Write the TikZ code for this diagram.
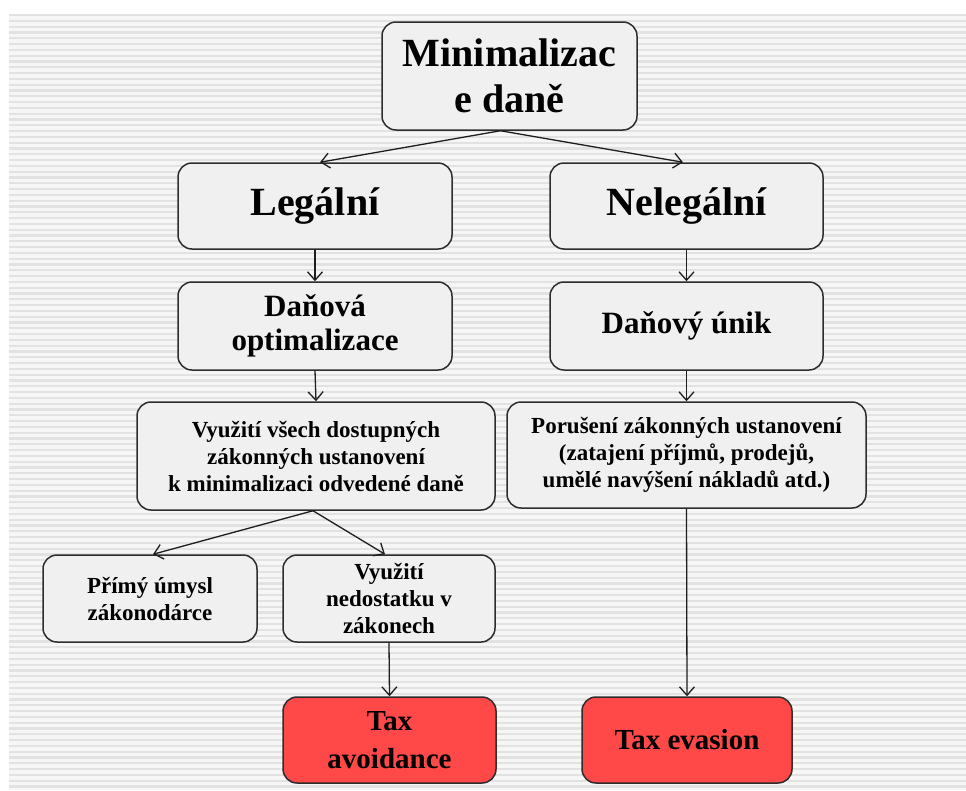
\documentclass[tikz,border=0pt]{standalone}
\usepackage{fontspec}
\setmainfont{Liberation Serif}
\usetikzlibrary{arrows.meta}
\definecolor{boxfill}{RGB}{240,240,240}
\definecolor{boxline}{RGB}{45,45,45}
\definecolor{redfill}{RGB}{255,72,72}
\definecolor{stripe}{RGB}{226,226,226}
\definecolor{arrowcol}{RGB}{30,30,30}
\tikzset{
  box/.style={draw=boxline, line width=1.5pt, fill=boxfill, rounded corners=14pt,
    align=center, inner sep=0pt, text=black, font=\bfseries},
  redbox/.style={box, fill=redfill},
  big/.style={font=\bfseries\fontsize{40}{46}\selectfont},
  mid/.style={font=\bfseries\fontsize{31}{34}\selectfont},
  small/.style={font=\bfseries\fontsize{23}{27}\selectfont},
  taxf/.style={font=\bfseries\fontsize{29}{38}\selectfont},
  conn/.style={draw=arrowcol, line width=1.3pt, -{Straight Barb[length=8.5pt,width=15pt,line width=1.3pt]}},
}
\begin{document}
\begin{tikzpicture}[x=1pt,y=-1pt]
\useasboundingbox (0,0) rectangle (966,790);
\fill[white] (0,0) rectangle (966,790);
\fill[boxfill!60!white] (9,14) rectangle (966,790);
\foreach \i in {0,...,133} {
  \fill[stripe] (9,{14+\i*5.8}) rectangle (966,{16.2+\i*5.8});
}
% nodes
\node[box, big, minimum width=255pt, minimum height=108pt] (top) at (509.5,76) {Minimalizac\\e daně};
\node[box, big, minimum width=274pt, minimum height=86pt] (leg) at (315,206) {Legální};
\node[box, big, minimum width=273pt, minimum height=86pt] (neleg) at (686.5,206) {Nelegální};
\node[box, mid, minimum width=274pt, minimum height=88pt] (opt) at (315,326) {Daňová\\optimalizace};
\node[box, mid, minimum width=273pt, minimum height=88pt] (unik) at (686.5,326) {Daňový únik};
\node[box, small, minimum width=358pt, minimum height=108pt] (vyuz) at (316,456) {Využití všech dostupných\\zákonných ustanovení\\k minimalizaci odvedené daně};
\node[box, small, minimum width=359pt, minimum height=106pt] (poru) at (686.5,455) {Porušení zákonných ustanovení\\(zatajení příjmů, prodejů,\\umělé navýšení nákladů atd.)};
\node[box, small, minimum width=214pt, minimum height=87pt] (prim) at (150,598.5) {Přímý úmysl\\zákonodárce};
\node[box, small, minimum width=212pt, minimum height=87pt] (nedo) at (389,598.5) {Využití\\nedostatku v\\zákonech};
\node[redbox, taxf, minimum width=213pt, minimum height=86pt] (avoid) at (389.5,740) {Tax\\avoidance};
\node[redbox, taxf, minimum width=210pt, minimum height=86pt] (evas) at (687,740) {Tax evasion};
% connectors
\draw[conn] ([xshift=-9pt]top.south) -- ([xshift=5pt]leg.north);
\draw[conn] ([xshift=-9pt]top.south) -- ([xshift=-3.5pt]neleg.north);
\draw[conn] (leg.south) -- (opt.north);
\draw[conn] (opt.south) -- (vyuz.north);
\draw[conn] (neleg.south) -- (unik.north);
\draw[conn] (unik.south) -- (poru.north);
\draw[conn] ([xshift=-3pt]vyuz.south) -- ([xshift=3pt]prim.north);
\draw[conn] ([xshift=-3pt]vyuz.south) -- ([xshift=-4pt]nedo.north);
\draw[conn] (nedo.south) -- (avoid.north);
\draw[conn] (poru.south) -- (evas.north);
\end{tikzpicture}
\end{document}
